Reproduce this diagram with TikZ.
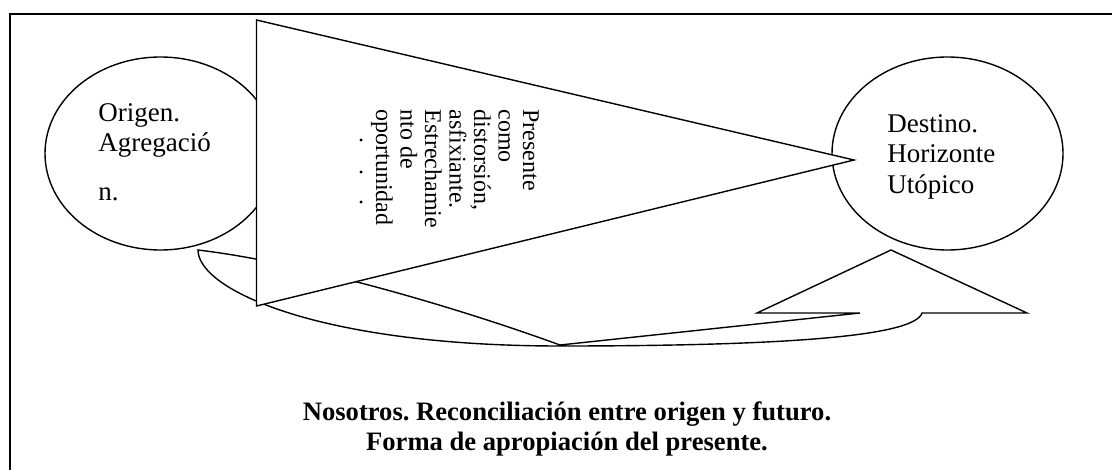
\documentclass[tikz,border=0pt]{standalone}
\usepackage{fontspec}
\setmainfont{Liberation Serif}
\usepackage{tikz}
\usetikzlibrary{shapes}
\frenchspacing
\tikzstyle{Bubble}=[ellipse,draw,fill=white,line width=0.7pt,inner sep=0pt,
outer sep=0pt,minimum width=115.5pt,minimum height=96.5pt]
\tikzstyle{Outline}=[draw,fill=white,line width=0.7pt,line join=miter]
\tikzstyle{Border}=[draw,line width=1pt]
\tikzstyle{NodeTxt}=[inner sep=0pt,anchor=base west,
font=\fontsize{13.5}{15}\selectfont]
\tikzstyle{NodeVert}=[inner sep=0pt,anchor=base west,rotate=-90,
font=\fontsize{12}{12.5}\selectfont]
\tikzstyle{NodeBold}=[inner sep=0pt,anchor=base,
font=\fontsize{13.3}{15}\selectfont\bfseries]

\begin{document}
\begin{tikzpicture}[x=0.5pt,y=-0.5pt]
        \useasboundingbox(0,0)rectangle(1112,470);
        \clip(0,0)rectangle(1112,470);
        \draw[Border](9.50,14.50)rectangle(1130.00,490.00);
        \node[Bubble](O)at(160.50,153.50){};
        \node[Bubble](D)at(947.50,153.50){};
        \draw[Outline](198.00,250.00)
            .. controls (198.00,290.00) and (320.00,346.00) .. (560.00,346.00)
            .. controls (800.00,346.00) and (915.00,335.00) .. (922.00,313.00)
            --(1027.00,313.00)--(891.00,250.00)--(757.00,313.00)
            --(860.00,313.00)--(560.00,345.00)
            .. controls (450.00,305.00) and (300.00,262.00) .. (198.00,250.00)
            --cycle;
        \draw[Outline](256.50,20.00)--(256.50,306.00)--(854.00,160.00)--cycle;
        \node[NodeTxt](O1)at(98.00,122.00){Origen.};
        \node[NodeTxt](O2)at(98.00,152.00){Agregació};
        \node[NodeTxt](O3)at(98.00,201.00){n.};
        \node[NodeTxt](D1)at(887.00,133.00){Destino.};
        \node[NodeTxt](D2)at(887.00,163.00){Horizonte};
        \node[NodeTxt](D3)at(887.00,193.00){Utópico};
        \node[NodeVert](P1)at(523.00,109.00){Presente};
        \node[NodeVert](P2)at(498.50,109.00){como};
        \node[NodeVert](P3)at(474.00,109.00){distorsión,};
        \node[NodeVert](P4)at(449.50,109.00){asfixiante.};
        \node[NodeVert](P5)at(425.00,109.00){Estrechamie};
        \node[NodeVert](P6)at(400.50,109.00){nto de};
        \node[NodeVert](P7)at(376.00,109.00){oportunidad};
        \node[NodeVert](P8)at(360.00,109.00)
            {\hspace*{14pt}.\hspace{13pt}.\hspace{12pt}.};
        \node[NodeBold](N1)at(567.00,420.00)
            {Nosotros. Reconciliación entre origen y futuro.};
        \node[NodeBold](N2)at(567.00,450.00)
            {Forma de apropiación del presente.};
    \end{tikzpicture}
\end{document}
